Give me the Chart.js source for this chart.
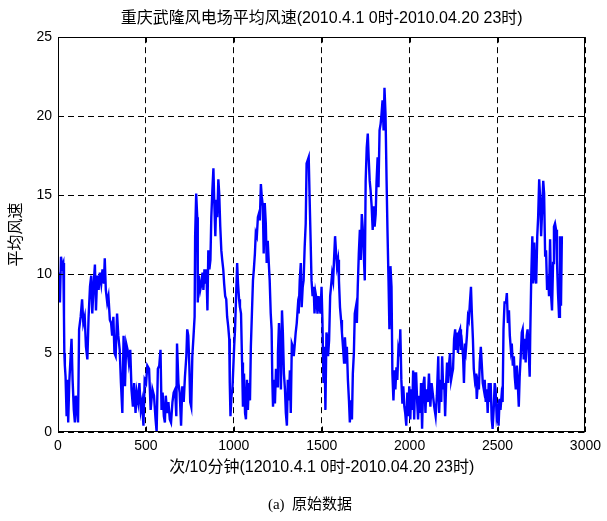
<!DOCTYPE html>
<html>
<head>
<meta charset="utf-8">
<script src="https://cdn.jsdelivr.net/npm/chart.js@4.4.1/dist/chart.umd.min.js"></script>
<style>
  html, body { margin: 0; padding: 0; background: #fff; }
</style>
</head>
<body>
<canvas id="chart" width="607" height="521"></canvas>
<script>
// sample number (one per 10 minutes) and mean wind speed
const sampleNo = [
  0,6,11,17,24,30,34,36,39,43,49,54,58,64,69,77,83,90,96,101,109,114,120,129,137,144,152,159,167,174,
  182,189,195,203,210,216,223,231,238,246,253,261,266,272,280,287,295,302,308,315,321,328,336,343,351,358,366,373,381,388,
  396,403,411,418,426,433,441,448,456,463,471,478,486,493,501,508,518,
  527,537,546,555,561,568,576,583,589,595,602,608,613,621,628,636,643,651,658,666,
  673,677,685,692,700,707,715,722,730,735,741,747,752,758,764,771,777,780,786,792,
  795,801,809,816,822,827,833,839,844,850,855,861,867,872,878,884,889,895,900,906,
  912,917,923,929,934,940,945,951,957,962,968,974,977,981,987,992,
  1002,1007,1013,1019,1024,1030,1035,1041,1047,1052,1058,1064,1069,1075,1080,1086,1092,1097,1103,1109,
  1114,1120,1125,1131,1137,1142,1148,1154,1159,1165,1170,1176,1182,1187,1193,1199,1204,1210,1215,1219,
  1223,1229,1234,1240,1246,1251,1257,1262,1268,1274,1279,1285,1291,1296,1302,1307,1313,1319,1324,1330,
  1336,1341,1347,1352,1358,1364,1369,1375,1381,1386,1392,1397,1403,1409,1414,1420,1426,1431,1437,1442,
  1448,1454,1459,1465,1471,1476,1482,1488,1493,1499,1504,1510,1516,1521,1527,
  1531,1536,1542,1548,1553,1559,1565,1570,1576,1582,1587,1593,1598,1604,1610,1615,1621,1627,1632,1638,
  1643,1649,1655,1660,1666,1672,1677,1683,1688,1694,1700,1705,1711,1717,1722,1728,1733,1739,1745,1750,
  1756,1762,1767,1773,1778,1784,1790,1795,1801,1807,1812,1818,1823,1829,1835,1840,1846,1852,1857,1863,
  1869,1874,1880,1885,1891,1897,1902,1908,1914,1919,1925,1930,1936,1942,1947,1953,1959,1964,1970,1975,
  1981,1987,1992,1998,2004,2009,2015,2020,2026,2032,
  2037,2043,2048,2054,2060,2065,2071,2077,2084,2090,2095,2103,2110,2118,2125,2133,2140,2148,2155,2163,
  2168,2174,2180,2185,2191,2197,2202,2208,2213,2219,2225,2230,2236,2242,2247,2253,2259,2264,2270,2275,
  2281,2287,2292,2298,2304,2309,2315,2320,2326,2332,2337,2343,2349,2354,2360,2365,2371,2377,2382,2388,
  2394,2399,2405,2410,2416,2422,2427,2433,2439,2444,2450,2456,2461,2467,2472,2478,2484,2489,2495,2501,
  2506,2512,2517,2523,2529,2534,2540,
  2548,2553,2559,2565,2570,2576,2581,2587,2593,2598,2604,2610,2615,2621,2626,2632,2638,2643,2649,2655,
  2660,2666,2671,2677,2683,2686,2692,2698,2703,2709,2715,2720,2726,2731,2737,2743,2748,2754,2760,2765,
  2771,2776,2782,2788,2793,2799,2805,2810,2816,2821,2827,2833,2838,2844,2850,2855,2861,2866
];
const windSpeed = [
  8.6,10.1,8.2,11.1,10.5,10.7,7.3,5.0,4.2,3.5,1.0,3.3,0.6,3.1,4.2,5.9,3.3,1.4,0.6,2.3,1.4,0.6,6.5,7.3,8.4,6.9,7.3,5.4,4.6,7.3,
  9.2,9.9,7.5,9.4,10.6,7.7,9.9,9.0,10.1,9.4,10.3,9.4,11.0,9.0,8.2,8.6,7.1,6.9,6.1,7.3,5.0,4.8,7.5,6.1,5.2,3.1,1.2,6.1,2.9,5.6,
  5.2,4.4,5.2,2.7,1.6,3.1,1.2,2.5,1.9,3.1,1.4,1.9,0.4,3.3,3.1,4.2,4.0,
  1.4,2.7,2.3,0.8,0,4.0,4.2,5.2,1.4,2.5,1.0,0.6,2.3,1.2,1.9,0.8,0.6,1.9,2.5,2.7,
  1.0,5.6,3.1,2.5,0.4,2.9,1.9,3.5,4.8,6.5,6.1,4.2,1.9,1.6,4.8,6.1,7.3,12.4,15.1,13.6,
  8.2,9.9,9.0,9.4,10.1,9.0,10.3,9.4,10.3,7.7,11.5,10.3,10.9,13.6,15.3,16.7,14.5,12.4,14.7,13.6,
  16.0,15.1,13.0,11.5,10.9,10.3,9.4,8.6,8.4,7.3,6.7,5.9,3.1,1.0,2.3,2.7,
  5.4,6.5,8.6,10.7,9.4,8.4,7.9,7.5,4.4,1.6,3.7,1.2,0.8,3.3,1.4,3.1,2.0,5.4,7.5,9.6,
  10.3,11.3,12.6,12.4,13.6,13.8,13.4,15.7,14.9,14.3,11.3,14.5,13.2,10.7,12.1,10.7,9.6,7.5,6.5,3.3,
  1.6,3.3,1.8,4.0,2.9,5.0,6.9,5.4,2.7,7.7,6.3,3.7,2.7,1.2,0.4,3.3,2.0,3.9,1.2,5.6,
  5.4,4.8,5.6,6.3,6.9,7.9,7.5,9.6,10.7,7.9,9.2,9.6,11.7,13.2,17.0,17.2,17.4,14.9,12.1,9.6,
  8.6,9.2,7.5,8.8,8.4,7.5,8.6,7.9,7.5,9.2,7.1,3.1,5.4,1.4,6.3,
  6.0,4.8,5.8,8.6,9.2,10.0,9.6,10.9,12.4,11.3,10.5,10.9,9.6,7.9,7.1,6.3,5.4,4.4,6.0,4.8,
  5.4,3.3,2.0,0.6,2.0,0.8,3.7,5.0,7.5,7.9,6.9,9.2,11.3,12.8,10.9,13.8,13.0,11.3,9.6,15.9,
  18.0,18.9,17.4,15.9,15.3,14.3,12.8,14.3,13.0,13.8,15.9,17.4,15.5,19.1,19.5,20.1,21.0,19.1,21.8,20.1,
  15.9,12.8,9.6,6.5,10.5,9.2,3.7,2.0,3.9,2.7,4.1,3.3,5.2,4.8,6.5,3.3,1.8,2.9,1.6,1.2,
  0.4,2.5,1.0,2.9,0.8,2.7,1.4,3.9,0.8,3.7,
  3.7,1.9,0.8,2.3,1.2,3.1,0.2,2.9,3.5,1.2,2.7,1.9,3.7,1.6,3.1,2.3,1.6,1.0,2.3,4.8,
  1.2,3.3,1.9,4.8,2.7,3.1,1.0,3.1,4.4,3.1,4.4,5.0,3.3,3.7,4.0,5.9,6.5,5.2,6.3,5.0,
  6.3,6.5,5.2,5.6,4.8,3.1,5.6,5.2,6.1,7.3,7.1,8.2,9.2,7.5,5.9,4.0,3.3,3.7,2.1,3.1,
  2.7,4.4,5.4,4.4,3.1,2.7,3.3,1.9,2.7,1.2,3.1,1.9,3.1,0.8,0.2,1.4,3.1,2.7,1.0,1.4,
  0.4,2.1,1.4,2.3,1.9,6.5,8.2,
  8.2,8.8,6.9,7.7,6.1,5.2,5.6,4.2,4.8,3.5,2.7,4.2,3.1,1.6,3.5,4.8,6.3,6.5,4.6,5.9,
  4.4,6.1,6.5,5.2,3.5,6.1,9.9,12.4,9.4,12.0,9.9,9.4,12.4,13.6,16.0,14.7,12.4,14.1,15.9,15.1,
  11.1,11.5,9.0,9.9,8.6,12.2,8.6,7.7,10.7,13.0,13.2,12.8,10.9,8.8,7.3,12.4,8.0,12.4
];
const xTicks = [0, 500, 1000, 1500, 2000, 2500, 3000];
const yTicks = [0, 5, 10, 15, 20, 25];

const titleText = '重庆武隆风电场平均风速(2010.4.1 0时-2010.04.20 23时)';
const xTitle = '次/10分钟(12010.4.1 0时-2010.04.20 23时)';
const yTitle = '平均风速';
const caption = '(a)  原始数据';

const sans = '"Liberation Sans", Arial, "Noto Sans CJK SC", sans-serif';
const serif = '"Liberation Serif", "Times New Roman", "Noto Sans CJK SC", serif';

// box round the plot plus the little inward ticks matlab draws
const framePlugin = {
  id: 'frame',
  afterDatasetsDraw(chart) {
    const { ctx, chartArea: a, scales: { x, y } } = chart;
    const l = Math.round(a.left) + 0.5, r = Math.round(a.right) - 0.5;
    const t = Math.round(a.top) + 0.5, b = Math.round(a.bottom) - 0.5;
    ctx.save();
    ctx.strokeStyle = '#000';
    ctx.lineWidth = 1;
    ctx.strokeRect(l, t, r - l, b - t);
    ctx.beginPath();
    xTicks.forEach(v => {
      const px = Math.round(x.getPixelForValue(v)) + 0.5;
      ctx.moveTo(px, b); ctx.lineTo(px, b - 5);
      ctx.moveTo(px, t); ctx.lineTo(px, t + 5);
    });
    yTicks.forEach(v => {
      const py = Math.round(y.getPixelForValue(v)) + 0.5;
      ctx.moveTo(l, py); ctx.lineTo(l + 5, py);
      ctx.moveTo(r, py); ctx.lineTo(r - 5, py);
    });
    ctx.stroke();
    ctx.restore();
  },
  afterDraw(chart) {
    const ctx = chart.ctx;
    ctx.save();
    ctx.font = '15px ' + serif;
    ctx.fillStyle = '#000';
    ctx.textAlign = 'center';
    ctx.textBaseline = 'middle';
    ctx.fillText(caption, 310, 505);
    ctx.restore();
  }
};

new Chart(document.getElementById('chart'), {
  type: 'line',
  data: {
    datasets: [{
      data: sampleNo.map((t, i) => ({ x: t, y: windSpeed[i] })),
      borderColor: '#0000ff',
      borderWidth: 2.4,
      pointRadius: 0,
      fill: false,
      tension: 0
    }]
  },
  options: {
    responsive: false,
    animation: false,
    devicePixelRatio: 1,
    layout: { padding: { left: 0, right: 16, top: 0, bottom: 34 } },
    plugins: {
      legend: { display: false },
      tooltip: { enabled: false },
      title: {
        display: true,
        text: titleText,
        fullSize: false,
        color: '#000',
        font: { family: sans, size: 16, weight: 'normal' },
        padding: { top: 9, bottom: 9 }
      }
    },
    scales: {
      x: {
        type: 'linear',
        min: 0,
        max: 3000,
        afterBuildTicks: s => { s.ticks = xTicks.map(v => ({ value: v })); },
        afterFit: s => { s.height = 55; },
        grid: { color: '#000', lineWidth: 1, drawTicks: false, tickLength: 0 },
        border: { display: false, dash: [6, 4] },
        ticks: {
          padding: 6, color: '#000', maxRotation: 0, autoSkip: false,
          font: { family: sans, size: 14 },
          callback: v => String(v)
        },
        title: { display: true, text: xTitle, color: '#000', font: { family: sans, size: 16 }, padding: { top: 4, bottom: 10 } }
      },
      y: {
        min: 0,
        max: 25,
        afterBuildTicks: s => { s.ticks = yTicks.map(v => ({ value: v })); },
        afterFit: s => { s.width = 58; },
        grid: { color: '#000', lineWidth: 1, drawTicks: false, tickLength: 0 },
        border: { display: false, dash: [6, 4] },
        ticks: { padding: 6, color: '#000', font: { family: sans, size: 14 }, callback: v => String(v) },
        title: { display: true, text: yTitle, color: '#000', font: { family: sans, size: 16 }, padding: { top: 7, bottom: 0 } }
      }
    }
  },
  plugins: [framePlugin]
});
</script>
</body>
</html>
